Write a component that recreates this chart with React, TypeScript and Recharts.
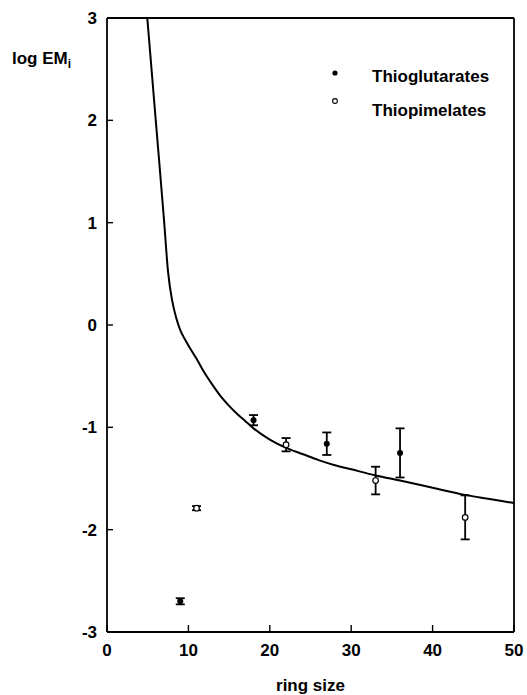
import React from 'react';
import { ComposedChart, Line, Scatter, ErrorBar, XAxis, YAxis, Legend } from 'recharts';

// ring size vs log EMi
const glutRingSize = [9, 18, 27, 36];
const glutLogEm = [-2.7, -0.93, -1.16, -1.25];
const glutErr = [0.03, 0.05, 0.11, 0.24];

const pimRingSize = [11, 22, 33, 44];
const pimLogEm = [-1.79, -1.17, -1.52, -1.88];
const pimErr = [0.02, 0.065, 0.135, 0.215];

// fitted curve
const curveRingSize = [4.95, 6, 7, 7.5, 8, 8.5, 9, 9.5, 10, 11, 12, 13, 14, 15, 16, 17, 18, 20, 22, 24, 26, 28, 30, 33, 36, 40, 44, 47, 50];
const curveLogEm = [3.0, 1.99, 1.03, 0.52, 0.24, 0.07, -0.05, -0.13, -0.2, -0.33, -0.47, -0.59, -0.7, -0.79, -0.87, -0.94, -1.01, -1.12, -1.2, -1.26, -1.32, -1.37, -1.41, -1.47, -1.52, -1.59, -1.66, -1.7, -1.74];

const xTicks = [0, 10, 20, 30, 40, 50];
const yTicks = [-3, -2, -1, 0, 1, 2, 3];

const glutData = glutRingSize.map((x, i) => ({ x, y: glutLogEm[i], err: glutErr[i] }));
const pimData = pimRingSize.map((x, i) => ({ x, y: pimLogEm[i], err: pimErr[i] }));
const curveData = curveRingSize.map((x, i) => ({ x, y: curveLogEm[i] }));

const FONT = '"Liberation Sans", Arial, sans-serif';
const tickStyle = { fontSize: 17, fontWeight: 'bold', fill: '#000', fontFamily: FONT };
const blank = () => '';

const FilledDot = (props: any) => <circle cx={props.cx} cy={props.cy} r={3} fill="#000" />;
const OpenDot = (props: any) => (
  <circle cx={props.cx} cy={props.cy} r={2.8} fill="#fff" stroke="#000" strokeWidth={1.2} />
);

const LegendBox = () => (
  <svg width={200} height={70} style={{ display: 'block' }}>
    <circle cx={15} cy={18} r={2.6} fill="#000" />
    <text x={52} y={27} style={tickStyle as any}>Thioglutarates</text>
    <circle cx={15} cy={46} r={2.4} fill="#fff" stroke="#000" strokeWidth={1.1} />
    <text x={52} y={61} style={tickStyle as any}>Thiopimelates</text>
  </svg>
);

const YLabel = () => (
  <text x={12} y={64} style={tickStyle as any}>
    log EM<tspan dy={4} fontSize={12}>i</tspan>
  </text>
);

export default function App() {
  return (
    <div style={{ position: 'absolute', left: 0, top: 0, width: 527, height: 695, background: '#fff', fontFamily: FONT }}>
      <ComposedChart width={527} height={695} margin={{ top: 17, right: 12, bottom: 0, left: 0 }}>
        <XAxis
          dataKey="x"
          type="number"
          domain={[0, 50]}
          ticks={xTicks}
          height={63}
          tick={tickStyle}
          tickSize={-7}
          tickMargin={19}
          axisLine={{ stroke: '#000', strokeWidth: 1.8 }}
          tickLine={{ stroke: '#000', strokeWidth: 1.4 }}
          label={{ value: 'ring size', position: 'insideBottom', offset: 4, style: tickStyle }}
        />
        <XAxis
          xAxisId="top"
          orientation="top"
          dataKey="x"
          type="number"
          domain={[0, 50]}
          ticks={xTicks}
          height={1}
          tickFormatter={blank}
          tickSize={-7}
          axisLine={{ stroke: '#000', strokeWidth: 1.8 }}
          tickLine={{ stroke: '#000', strokeWidth: 1.4 }}
        />
        <YAxis
          dataKey="y"
          type="number"
          domain={[-3, 3]}
          ticks={yTicks}
          width={107}
          tick={tickStyle}
          tickSize={-6}
          tickMargin={16}
          axisLine={{ stroke: '#000', strokeWidth: 1.8 }}
          tickLine={{ stroke: '#000', strokeWidth: 1.4 }}
          allowDataOverflow
          label={{ content: <YLabel /> }}
        />
        <YAxis
          yAxisId="right"
          orientation="right"
          dataKey="y"
          type="number"
          domain={[-3, 3]}
          ticks={yTicks}
          width={1}
          tickFormatter={blank}
          tickSize={-6}
          axisLine={{ stroke: '#000', strokeWidth: 1.8 }}
          tickLine={{ stroke: '#000', strokeWidth: 1.4 }}
        />
        <Legend
          layout="vertical"
          align="center"
          verticalAlign="middle"
          content={<LegendBox />}
          wrapperStyle={{ top: 55, left: 320, width: 200, height: 70 }}
        />
        <Line
          data={curveData}
          dataKey="y"
          type="monotone"
          stroke="#000"
          strokeWidth={2}
          dot={false}
          activeDot={false}
          isAnimationActive={false}
          legendType="none"
        />
        <Scatter data={glutData} dataKey="y" shape={<FilledDot />} isAnimationActive={false} name="Thioglutarates">
          <ErrorBar dataKey="err" direction="y" width={4.5} stroke="#000" strokeWidth={1.8} isAnimationActive={false} />
        </Scatter>
        <Scatter data={pimData} dataKey="y" shape={<OpenDot />} isAnimationActive={false} name="Thiopimelates">
          <ErrorBar dataKey="err" direction="y" width={4.5} stroke="#000" strokeWidth={1.8} isAnimationActive={false} />
        </Scatter>
      </ComposedChart>
    </div>
  );
}
